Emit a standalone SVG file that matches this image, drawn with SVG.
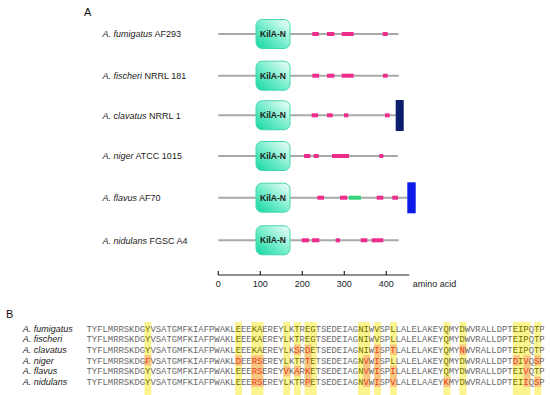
<svg xmlns="http://www.w3.org/2000/svg" width="550" height="395" viewBox="0 0 550 395">
<defs>
<linearGradient id="kg" x1="0" y1="1" x2="1" y2="0">
<stop offset="0" stop-color="#14d6a0"/>
<stop offset="0.45" stop-color="#6fecc9"/>
<stop offset="1" stop-color="#f4fffb"/>
</linearGradient>
</defs>
<style>
.lbl{font-family:"Liberation Sans",Arial,sans-serif;font-size:9px;fill:#222}
.it{font-style:italic}
.pl{font-family:"Liberation Sans",Arial,sans-serif;font-size:11px;fill:#111}
.bb{stroke:#a8a8a8;stroke-width:2}
.kb{fill:url(#kg);stroke:#45d8b0;stroke-width:1}
.kt{font-family:"Liberation Sans",Arial,sans-serif;font-size:8.5px;font-weight:bold;fill:#222;text-anchor:middle}
.pk{fill:#ee2c8c}
.gr{fill:#33d57a}
.ax{stroke:#222;stroke-width:1.2;fill:none}
.at{font-family:"Liberation Sans",Arial,sans-serif;font-size:9px;fill:#222;text-anchor:middle}
.sq{font-family:"Liberation Mono","Courier New",monospace;font-size:8.9px;fill:#6a6a6a}
.c{fill:#6e7000}
.v{fill:#ec3a1c}
.col{fill:#fbf27a;opacity:0.85}
.vc{fill:#f8b47e;opacity:0.7}
</style>
<rect width="550" height="395" fill="#fff"/>
<text class="pl" x="84" y="15.7">A</text>
<g id="row-fumigatus">
<text class="lbl" x="102.5" y="37.2"><tspan class="it">A. fumigatus</tspan> AF293</text>
<line class="bb" x1="218.3" y1="34" x2="398.5" y2="34"/>
<rect class="pk" x="312.3" y="32" width="6.4" height="4"/>
<rect class="pk" x="327" y="32" width="7.3" height="4"/>
<rect class="pk" x="341.7" y="32" width="12" height="4"/>
<rect class="pk" x="382.7" y="32" width="5" height="4"/>
<rect class="kb" x="256" y="19.5" width="34" height="29" rx="6"/>
<text class="kt" x="273" y="37">KilA-N</text>
</g>
<g id="row-fischeri">
<text class="lbl" x="102.5" y="78.9"><tspan class="it">A. fischeri</tspan> NRRL 181</text>
<line class="bb" x1="218.3" y1="75.7" x2="398.7" y2="75.7"/>
<rect class="pk" x="312.3" y="73.7" width="6.7" height="4"/>
<rect class="pk" x="327" y="73.7" width="7.3" height="4"/>
<rect class="pk" x="341.7" y="73.7" width="12" height="4"/>
<rect class="pk" x="383" y="73.7" width="4.7" height="4"/>
<rect class="kb" x="256" y="61.2" width="34" height="29" rx="6"/>
<text class="kt" x="273" y="78.7">KilA-N</text>
</g>
<g id="row-clavatus">
<text class="lbl" x="102.5" y="118.5"><tspan class="it">A. clavatus</tspan> NRRL 1</text>
<line class="bb" x1="218.3" y1="115.3" x2="396" y2="115.3"/>
<rect class="pk" x="311.7" y="113.3" width="6.3" height="4"/>
<rect class="pk" x="327" y="113.3" width="5.7" height="4"/>
<rect class="pk" x="344" y="113.3" width="4.3" height="4"/>
<rect class="pk" x="385" y="113.3" width="4.7" height="4"/>
<rect x="395.7" y="100" width="8" height="31" fill="#0b1d6c"/>
<rect class="kb" x="256" y="100.8" width="34" height="29" rx="6"/>
<text class="kt" x="273" y="118.3">KilA-N</text>
</g>
<g id="row-niger">
<text class="lbl" x="102.5" y="159.2"><tspan class="it">A. niger</tspan> ATCC 1015</text>
<line class="bb" x1="218.3" y1="156" x2="397.7" y2="156"/>
<rect class="pk" x="304" y="154" width="6.3" height="4"/>
<rect class="pk" x="313.7" y="154" width="5" height="4"/>
<rect class="pk" x="332" y="154" width="17" height="4"/>
<rect class="pk" x="379.3" y="154" width="4" height="4"/>
<rect class="kb" x="256" y="141.5" width="34" height="29" rx="6"/>
<text class="kt" x="273" y="159">KilA-N</text>
</g>
<g id="row-flavus">
<text class="lbl" x="102.5" y="200.9"><tspan class="it">A. flavus</tspan> AF70</text>
<line class="bb" x1="218.3" y1="197.7" x2="407.5" y2="197.7"/>
<rect class="pk" x="317.3" y="195.7" width="6.7" height="4"/>
<rect class="pk" x="340" y="195.7" width="7.3" height="4"/>
<rect class="gr" x="349" y="195.7" width="12" height="4"/>
<rect class="pk" x="376.7" y="195.7" width="6.6" height="4"/>
<rect class="pk" x="392.3" y="195.7" width="5.7" height="4"/>
<rect x="407.3" y="182.3" width="8.4" height="31" fill="#0c1be6"/>
<rect class="kb" x="256" y="183.2" width="34" height="29" rx="6"/>
<text class="kt" x="273" y="200.7">KilA-N</text>
</g>
<g id="row-nidulans">
<text class="lbl" x="102.5" y="243.5"><tspan class="it">A. nidulans</tspan> FGSC A4</text>
<line class="bb" x1="218.3" y1="240.3" x2="398.7" y2="240.3"/>
<rect class="pk" x="301.7" y="238.3" width="7.3" height="4"/>
<rect class="pk" x="312" y="238.3" width="7.3" height="4"/>
<rect class="pk" x="335.7" y="238.3" width="4.3" height="4"/>
<rect class="pk" x="360.7" y="238.3" width="6.6" height="4"/>
<rect class="pk" x="371.7" y="238.3" width="11.6" height="4"/>
<rect class="kb" x="256" y="225.8" width="34" height="29" rx="6"/>
<text class="kt" x="273" y="243.3">KilA-N</text>
</g>
<g id="axis">
<path class="ax" d="M218.3,275H409.3M218.3,271V275M260.3,271V275M302.3,271V275M344.3,271V275M386.3,271V275"/>
<text class="at" x="218.3" y="286.5">0</text>
<text class="at" x="260.3" y="286.5">100</text>
<text class="at" x="302.3" y="286.5">200</text>
<text class="at" x="344.3" y="286.5">300</text>
<text class="at" x="386.3" y="286.5">400</text>
<text class="lbl" x="412.7" y="286.5">amino acid</text>
</g>
<text class="pl" x="6" y="318">B</text>
<g id="highlights">
<rect class="col" x="144.4" y="322" width="6.9" height="73"/>
<rect class="col" x="235.2" y="322" width="6.9" height="73"/>
<rect class="col" x="251.2" y="322" width="12.2" height="73"/>
<rect class="col" x="283.3" y="322" width="6.9" height="73"/>
<rect class="col" x="294" y="322" width="6.9" height="73"/>
<rect class="col" x="304.6" y="322" width="12.2" height="73"/>
<rect class="col" x="358" y="322" width="12.2" height="73"/>
<rect class="col" x="374.1" y="322" width="6.9" height="73"/>
<rect class="col" x="390.1" y="322" width="6.9" height="73"/>
<rect class="col" x="443.5" y="322" width="6.9" height="73"/>
<rect class="col" x="459.5" y="322" width="6.9" height="73"/>
<rect class="col" x="512.9" y="322" width="17.6" height="73"/>
<rect class="col" x="534.3" y="322" width="6.9" height="73"/>
<rect class="vc" x="294" y="344.5" width="6.9" height="10.6"/>
<rect class="vc" x="304.6" y="344.5" width="6.9" height="10.6"/>
<rect class="vc" x="374.1" y="344.5" width="6.9" height="10.6"/>
<rect class="vc" x="390.1" y="344.5" width="6.9" height="10.6"/>
<rect class="vc" x="459.5" y="344.5" width="6.9" height="10.6"/>
<rect class="vc" x="144.4" y="355.1" width="6.9" height="10.6"/>
<rect class="vc" x="235.2" y="355.1" width="6.9" height="10.6"/>
<rect class="vc" x="251.2" y="355.1" width="12.2" height="31.9"/>
<rect class="vc" x="304.6" y="355.1" width="6.9" height="31.9"/>
<rect class="vc" x="363.3" y="355.1" width="6.9" height="31.9"/>
<rect class="vc" x="374.1" y="355.1" width="6.9" height="31.9"/>
<rect class="vc" x="512.9" y="355.1" width="6.9" height="10.6"/>
<rect class="vc" x="523.6" y="355.1" width="6.9" height="31.9"/>
<rect class="vc" x="534.3" y="355.1" width="6.9" height="10.6"/>
<rect class="vc" x="283.3" y="365.8" width="6.9" height="10.6"/>
<rect class="vc" x="294" y="365.8" width="6.9" height="10.6"/>
<rect class="vc" x="390.1" y="365.8" width="6.9" height="21.2"/>
<rect class="vc" x="443.5" y="376.4" width="6.9" height="10.6"/>
<rect class="vc" x="534.3" y="376.4" width="6.9" height="10.6"/>
</g>
<g id="alignment">
<text class="lbl it" x="22.7" y="331.6">A. fumigatus</text>
<text class="lbl it" x="22.7" y="342.3">A. fischeri</text>
<text class="lbl it" x="22.7" y="352.9">A. clavatus</text>
<text class="lbl it" x="22.7" y="363.6">A. niger</text>
<text class="lbl it" x="22.7" y="374.2">A. flavus</text>
<text class="lbl it" x="22.7" y="384.9">A. nidulans</text>
<text class="sq" x="86.5" y="331.6">TYFLMRRSKDG<tspan class="c">Y</tspan>VSATGMFKIAFPWAKL<tspan class="c">E</tspan>EE<tspan class="c">KA</tspan>EREY<tspan class="c">L</tspan>K<tspan class="c">T</tspan>R<tspan class="c">EG</tspan>TSEDEIAG<tspan class="c">NI</tspan>W<tspan class="c">V</tspan>SP<tspan class="c">L</tspan>LALELAKEY<tspan class="c">Q</tspan>MY<tspan class="c">D</tspan>WVRALLDPT<tspan class="c">EIP</tspan>Q<tspan class="c">T</tspan>P</text>
<text class="sq" x="86.5" y="342.3">TYFLMRRSKDG<tspan class="c">Y</tspan>VSATGMFKIAFPWAKL<tspan class="c">E</tspan>EE<tspan class="c">KA</tspan>EREY<tspan class="c">L</tspan>K<tspan class="c">T</tspan>R<tspan class="c">EG</tspan>TSEDEIAG<tspan class="c">NI</tspan>W<tspan class="c">V</tspan>SP<tspan class="c">L</tspan>LALELAKEY<tspan class="c">Q</tspan>MY<tspan class="c">D</tspan>WVRALLDPT<tspan class="c">EIP</tspan>Q<tspan class="c">T</tspan>P</text>
<text class="sq" x="86.5" y="352.9">TYFLMRRSKDG<tspan class="c">Y</tspan>VSATGMFKIAFPWAKL<tspan class="c">E</tspan>EE<tspan class="c">KA</tspan>EREY<tspan class="c">L</tspan>K<tspan class="v">S</tspan>R<tspan class="v">D</tspan><tspan class="c">E</tspan>TSEDEIAG<tspan class="c">NI</tspan>W<tspan class="v">I</tspan>SP<tspan class="v">T</tspan>LALELAKEY<tspan class="c">Q</tspan>MY<tspan class="v">N</tspan>WVRALLDPT<tspan class="c">EIP</tspan>Q<tspan class="c">T</tspan>P</text>
<text class="sq" x="86.5" y="363.6">TYFLMRRSKDG<tspan class="v">F</tspan>VSATGMFKIAFPWAKL<tspan class="v">D</tspan>EE<tspan class="v">RS</tspan>EREY<tspan class="c">L</tspan>K<tspan class="c">T</tspan>R<tspan class="v">T</tspan><tspan class="c">E</tspan>TSEDEIAG<tspan class="c">N</tspan><tspan class="v">V</tspan>W<tspan class="v">I</tspan>SP<tspan class="c">L</tspan>LALELAKEY<tspan class="c">Q</tspan>MY<tspan class="c">D</tspan>WVRALLDPT<tspan class="v">D</tspan><tspan class="c">I</tspan><tspan class="v">V</tspan>Q<tspan class="v">S</tspan>P</text>
<text class="sq" x="86.5" y="374.2">TYFLMRRSKDG<tspan class="c">Y</tspan>VSATGMFKIAFPWAKL<tspan class="c">E</tspan>EE<tspan class="v">RS</tspan>EREY<tspan class="v">V</tspan>K<tspan class="v">A</tspan>R<tspan class="v">K</tspan><tspan class="c">E</tspan>TSEDEIAG<tspan class="c">N</tspan><tspan class="v">V</tspan>W<tspan class="v">I</tspan>SP<tspan class="v">I</tspan>LALELAKEY<tspan class="c">Q</tspan>MY<tspan class="c">D</tspan>WVRALLDPT<tspan class="c">EI</tspan><tspan class="v">V</tspan>Q<tspan class="c">T</tspan>P</text>
<text class="sq" x="86.5" y="384.9">TYFLMRRSKDG<tspan class="c">Y</tspan>VSATGMFKIAFPWAKL<tspan class="c">E</tspan>EE<tspan class="v">RS</tspan>EREY<tspan class="c">L</tspan>K<tspan class="c">T</tspan>R<tspan class="v">P</tspan><tspan class="c">E</tspan>TSEDEIAG<tspan class="c">N</tspan><tspan class="v">V</tspan>W<tspan class="v">I</tspan>SP<tspan class="v">V</tspan>LALELAAEY<tspan class="v">K</tspan>MY<tspan class="c">D</tspan>WVRALLDPT<tspan class="c">EI</tspan><tspan class="v">I</tspan>Q<tspan class="v">S</tspan>P</text>
</g>
</svg>
